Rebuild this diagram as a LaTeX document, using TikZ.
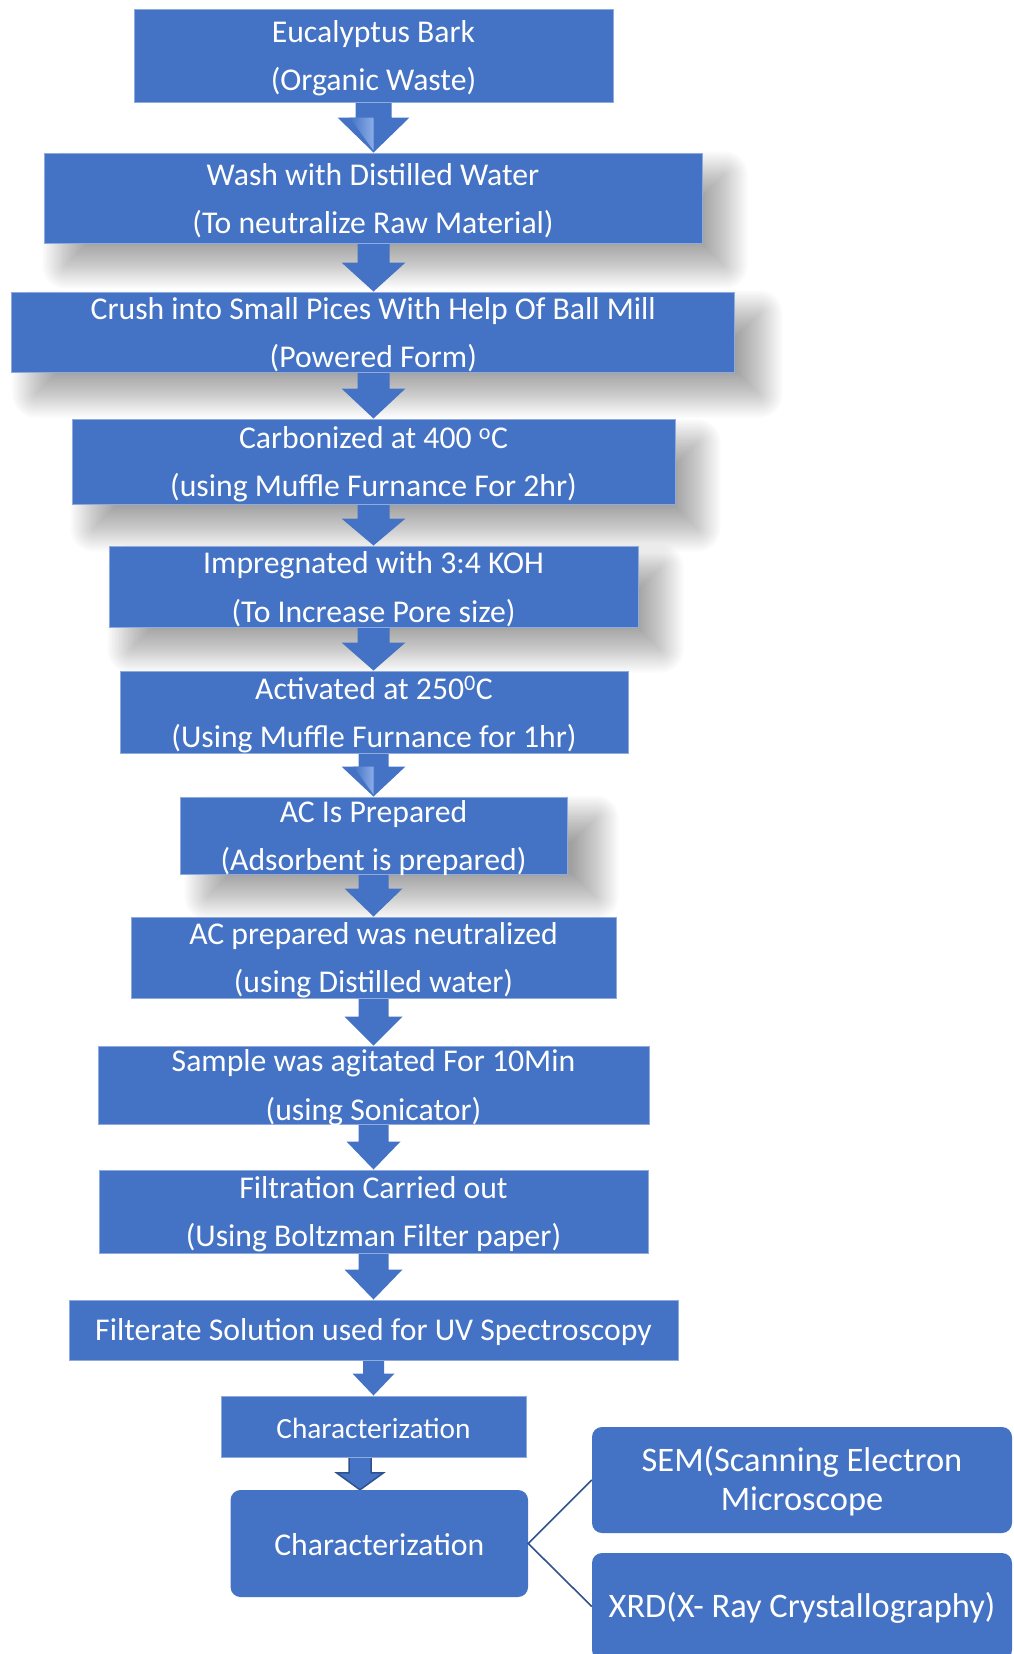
\documentclass[tikz,border=0pt]{standalone}
\usepackage{fontspec}
\setmainfont{Carlito}
\usetikzlibrary{calc}
\definecolor{boxblue}{HTML}{4472C4}
\definecolor{edgeblue}{HTML}{8FAADC}
\definecolor{darkblue}{HTML}{2F528F}
\definecolor{lightblue}{HTML}{9DBDF0}
\tikzset{
  box/.style={rectangle, fill=boxblue, draw=edgeblue, line width=1pt, inner sep=0pt,
    text=white, align=center, font=\fontsize{31.7}{48.5}\selectfont},
  rbox/.style={rectangle, rounded corners=10pt, fill=boxblue, inner sep=0pt,
    text=white, align=center},
  lbl/.style={inner sep=0pt, text=white, align=center, yshift=-2.5pt, font=\fontsize{31.7}{48.5}\selectfont},
  arrowfill/.style={fill=boxblue},
  arrowout/.style={fill=boxblue, draw=darkblue, line width=1.5pt, line join=miter},
  link/.style={draw=darkblue, line width=1.6pt}
}
% blurred drop shadow of a named node: #1 node, #2 dx, #3 dy (page down)
\newcommand\nodeshadow[3]{%
  \foreach \k in {-10,...,10}{%
    \pgfmathsetmacro\ee{\k*2.3}%
    \pgfmathsetmacro\rc{max(\k*2.3,0.5)}%
    \pgfmathsetmacro\ax{#2-\ee}\pgfmathsetmacro\ay{#3+\ee}%
    \pgfmathsetmacro\bx{#2+\ee}\pgfmathsetmacro\by{#3-\ee}%
    \path[fill=black, fill opacity=0.021, rounded corners=\rc pt]
      ([shift={(\ax,\ay)}]#1.south west) rectangle ([shift={(\bx,\by)}]#1.north east);
  }}
% block arrow: #1 style, #2 from node, #3 to node, #4 x centre, #5 half shaft, #6 half head, #7 head height
\newcommand\blockarrow[7]{%
  \path[#1] let \p1=(#2.south), \p2=(#3.north), \p3=(#4,0) in
    (\x3-#5pt,\y1+1pt) -- (\x3+#5pt,\y1+1pt) -- (\x3+#5pt,\y2+#7pt) -- (\x3+#6pt,\y2+#7pt)
    -- (\x3,\y2) -- (\x3-#6pt,\y2+#7pt) -- (\x3-#5pt,\y2+#7pt) -- cycle;
}
\newcommand\arrowshine[5]{% #1 from, #2 to, #3 x centre, #4 half head, #5 head height
  \path[left color=boxblue, right color=lightblue, fill opacity=0.8] let \p1=(#1.south), \p2=(#2.north), \p3=(#3,0) in
    (\x3-#4pt+12pt,\y2+#5pt) -- (\x3,\y2+#5pt) -- (\x3,\y2+2pt) -- cycle;
}
\begin{document}
\begin{tikzpicture}[x=1pt, y=-1pt]
\useasboundingbox (0,0) rectangle (1013,1654);
\fill[white] (0,0) rectangle (1013,1654);

% named box positions (invisible placeholders, used by shadows and arrows)
\begin{scope}[opacity=0, text opacity=0]
\node[box, minimum width=479pt, minimum height=92.5pt] (b1) at (373.5,55.75) {};
\node[box, minimum width=658pt, minimum height=90pt] (b2) at (373,198) {};
\node[box, minimum width=723pt, minimum height=80pt] (b3) at (373.3,332) {};
\node[box, minimum width=603pt, minimum height=85pt] (b4) at (373.5,461.5) {};
\node[box, minimum width=529pt, minimum height=81pt] (b5) at (373.5,586.5) {};
\node[box, minimum width=508pt, minimum height=82pt] (b6) at (374,712) {};
\node[box, minimum width=387pt, minimum height=77pt] (b7) at (373.5,835.5) {};
\node[box, minimum width=485pt, minimum height=81pt] (b8) at (373.5,957.5) {};
\node[box, minimum width=551pt, minimum height=78pt] (b9) at (373.5,1085) {};
\node[box, minimum width=549pt, minimum height=83pt] (b10) at (373.5,1211.5) {};
\node[box, minimum width=609pt, minimum height=60pt] (b11) at (373.5,1330) {};
\node[box, minimum width=305pt, minimum height=61pt] (b12) at (373.5,1426.5) {};
\node[rbox, minimum width=297.5pt, minimum height=107pt] (b13) at (379.3,1543.5) {};
\node[rbox, minimum width=420pt, minimum height=106pt] (sem) at (802,1480) {};
\node[rbox, minimum width=420pt, minimum height=107pt] (xrd) at (802,1606.5) {};
\end{scope}

% shadows
\nodeshadow{b2}{22}{22}
\nodeshadow{b3}{24}{22}
\nodeshadow{b4}{22}{24}
\nodeshadow{b5}{22}{22}
\nodeshadow{b7}{28}{22}

% block arrows
\blockarrow{arrowfill}{b1}{b2}{373.5}{18}{36}{35}
\arrowshine{b1}{b2}{373.5}{36}{35}
\blockarrow{arrowfill}{b2}{b3}{373.5}{16}{32}{29}
\blockarrow{arrowfill}{b3}{b4}{373.5}{16}{32}{30}
\blockarrow{arrowfill}{b4}{b5}{373.5}{16}{32}{27}
\blockarrow{arrowfill}{b5}{b6}{373.5}{16}{32}{28}
\blockarrow{arrowfill}{b6}{b7}{373.5}{15}{32}{30}
\arrowshine{b6}{b7}{373.5}{32}{30}
\blockarrow{arrowfill}{b7}{b8}{373.5}{15}{29}{28}
\blockarrow{arrowfill}{b8}{b9}{373.5}{15}{29}{29}
\blockarrow{arrowfill}{b9}{b10}{373.5}{15}{27}{28}
\blockarrow{arrowfill}{b10}{b11}{373.5}{15}{29}{30}
\blockarrow{arrowfill}{b11}{b12}{373.5}{10.5}{21}{22}
\blockarrow{arrowout}{b12}{b13}{360}{11}{23.5}{17}

% visible boxes
\foreach \n/\w/\h in {b1/479/92.5, b2/658/90, b3/723/80, b4/603/85, b5/529/81, b6/508/82,
  b7/387/77, b8/485/81, b9/551/78, b10/549/83, b11/609/60, b12/305/61}{
  \node[box, minimum width=\w pt, minimum height=\h pt] at (\n) {};
}
\foreach \n/\w/\h in {b13/297.5/107, sem/420/106, xrd/420/107}{
  \node[rbox, minimum width=\w pt, minimum height=\h pt] at (\n) {};
}

% texts
\node[lbl] (t1) at (b1) {Eucalyptus Bark\\(Organic Waste)};
\node[lbl] (t2) at (b2) {Wash with Distilled Water\\(To neutralize Raw Material)};
\node[lbl] (t3) at (b3) {Crush into Small Pices With Help Of Ball Mill\\(Powered Form)};
\node[lbl] (t4) at (b4) {Carbonized at 400 \textsuperscript{o}C\\(using Muffle Furnance For 2hr)};
\node[lbl] (t5) at (b5) {Impregnated with 3:4 KOH\\(To Increase Pore size)};
\node[lbl] (t6) at (b6) {Activated at 250\textsuperscript{0}C\\(Using Muffle Furnance for 1hr)};
\node[lbl] (t7) at (b7) {AC Is Prepared\\(Adsorbent is prepared)};
\node[lbl] (t8) at (b8) {AC prepared was neutralized\\(using Distilled water)};
\node[lbl] (t9) at (b9) {Sample was agitated For 10Min\\(using Sonicator)};
\node[lbl] (t10) at (b10) {Filtration Carried out\\(Using Boltzman Filter paper)};
\node[lbl] (t11) at (b11) {Filterate Solution used for UV Spectroscopy};
\node[lbl, yshift=1pt, font=\fontsize{29.3}{35}\selectfont] (t12) at (b12) {Characterization};
\node[lbl, yshift=1pt, font=\fontsize{31.7}{38}\selectfont] (t13) at (b13) {Characterization};
\node[lbl, yshift=1pt, font=\fontsize{34.4}{39}\selectfont] (tsem) at (sem) {SEM(Scanning Electron\\Microscope};
\node[lbl, yshift=1pt, font=\fontsize{34.4}{39}\selectfont] (txrd) at (xrd) {XRD(X- Ray Crystallography)};

% connectors
\draw[link] (sem.west) -- (b13.east) -- (xrd.west);
\end{tikzpicture}
\end{document}
